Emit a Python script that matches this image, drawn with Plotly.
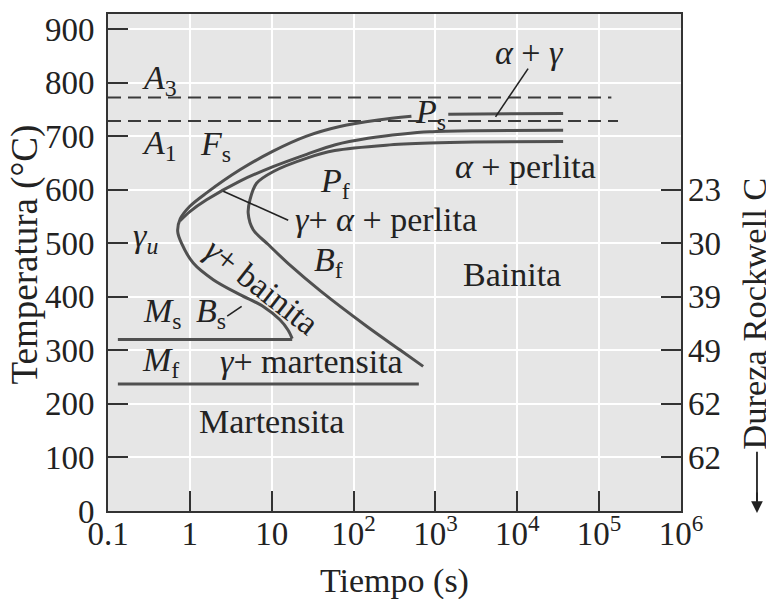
import numpy as np
import plotly.graph_objects as go

# ---------------- data ----------------
# Ferrite-start curve (outer C curve), from the Ms end upward (time s, temperature C)
fs_t = [17.8, 15.8, 12.6, 7.87, 4.09, 1.93, 1.10, 0.79, 0.71, 0.76, 1.0, 1.60, 4.09, 10.4, 26.7, 68, 200, 509, None, 1435, 36300]
fs_T = [322, 338, 357, 382, 404, 432, 463, 500, 522, 545, 569, 594, 637, 672, 700, 718, 730, 737, None, 741, 742]

# Pearlite-start curve
ps_t = [0.76, 1.0, 1.60, 4.09, 10.4, 26.7, 60, 150, 400, 851, 3000, 36300]
ps_T = [542, 559, 581, 616, 643, 666, 684, 696, 704, 708, 710, 711]

# Pearlite / bainite finish curve
pf_t = [36300, 3000, 851, 250, 59, 26.9, 10.5, 6.53, 5.42, 5.16, 5.94, 9.0, 17.0, 40.0, 144.5, 367, 708]
pf_T = [690, 689, 687, 683, 673, 659, 634, 612, 581, 556, 525, 498, 458, 410, 345, 301, 270]

# Martensite start / finish lines
ms_t = [0.132, 17.8]
ms_T = [320, 320]
mf_t = [0.132, 627]
mf_T = [237, 237]

# Critical temperatures (dashed)
a3_t = [0.1, 141000]
a3_T = [772, 772]
a1_t = [0.1, 170000]
a1_T = [728, 728]

# Leader lines
lead1_t = [2.56, 15.9]
lead1_T = [597, 543]
lead2_t = [13550, 5420]
lead2_T = [826, 736]
lead3_t = [2.86, 4.29]
lead3_T = [364, 382]

# Axis ticks
x_tickvals = [0.1, 1, 10, 100, 1e3, 1e4, 1e5, 1e6]
x_ticktext = ["0.1", "1", "10", "10<sup>2</sup>", "10<sup>3</sup>", "10<sup>4</sup>", "10<sup>5</sup>", "10<sup>6</sup>"]
y_tickvals = [0, 100, 200, 300, 400, 500, 600, 700, 800, 900]
hrc_tickvals = [600, 500, 400, 300, 200, 100]
hrc_ticktext = ["23", "30", "39", "49", "62", "62"]

# Region labels: (text, time s, temperature C, angle)
labels = [
    ("<i>A</i><sub>3</sub>", 0.431, 804, 0),
    ("<i>A</i><sub>1</sub>", 0.42, 684, 0),
    ("<i>F</i><sub>s</sub>", 2.08, 682, 0),
    ("<i>P</i><sub>s</sub>", 860, 742, 0),
    ("<i>P</i><sub>f</sub>", 59.3, 613, 0),
    ("<i>α</i> + perlita", 12760, 643, 0),
    ("<i>α</i> + <i>γ</i>", 14290, 856, 0),
    ("<i>γ</i>+ <i>α</i> + perlita", 249, 544, 0),
    ("<i>γ<sub>u</sub></i>", 0.291, 510, 0),
    ("<i>γ</i>+ bainita", 7.6, 419, 38),
    ("<i>B</i><sub>f</sub>", 48.8, 465, 0),
    ("Bainita", 8610, 441, 0),
    ("<i>M</i><sub>s</sub>", 0.457, 370, 0),
    ("<i>B</i><sub>s</sub>", 1.81, 370, 0),
    ("<i>M</i><sub>f</sub>", 0.444, 279, 0),
    ("<i>γ</i>+ martensita", 30.2, 279, 0),
    ("Martensita", 9.8, 168, 0),
]

FONT = "Liberation Serif"
CURVE = "#505050"
TXT = "#222"

fig = go.Figure()

def add_line(t, T, color=CURVE, width=3, dash=None, shape="spline"):
    fig.add_trace(go.Scatter(
        x=t, y=T, mode="lines", hoverinfo="skip",
        line=dict(color=color, width=width, dash=dash, shape=shape, smoothing=0.9),
        connectgaps=False,
    ))

add_line(a3_t, a3_T, color="#3a3a3a", width=2, dash="13px,7px", shape="linear")
add_line(a1_t, a1_T, color="#3a3a3a", width=2, dash="13px,7px", shape="linear")
add_line(fs_t, fs_T)
add_line(ps_t, ps_T)
add_line(pf_t, pf_T)
add_line(ms_t, ms_T, shape="linear")
add_line(mf_t, mf_T, shape="linear")
add_line(lead1_t, lead1_T, color=TXT, width=1.6, shape="linear")
add_line(lead2_t, lead2_T, color=TXT, width=1.6, shape="linear")
add_line(lead3_t, lead3_T, color=TXT, width=1.6, shape="linear")

# invisible trace to activate the right hardness axis
fig.add_trace(go.Scatter(x=[1], y=[100], yaxis="y2", mode="markers",
                         marker=dict(opacity=0), hoverinfo="skip"))

annotations = []
for text, t, T, ang in labels:
    annotations.append(dict(
        x=float(np.log10(t)), y=T, xref="x", yref="y", text=text,
        showarrow=False, textangle=ang,
        font=dict(family=FONT, size=34, color=TXT),
        xanchor="center", yanchor="middle",
    ))

# axis titles placed as annotations
annotations.append(dict(x=-0.145, y=0.516, xref="paper", yref="paper",
                        text="Temperatura (°C)", textangle=-90, showarrow=False,
                        font=dict(family=FONT, size=37, color=TXT),
                        xanchor="center", yanchor="middle"))
annotations.append(dict(x=0.5, y=-0.140, xref="paper", yref="paper",
                        text="Tiempo (s)", showarrow=False,
                        font=dict(family=FONT, size=34, color=TXT),
                        xanchor="center", yanchor="middle"))
annotations.append(dict(x=1.1274, y=0.397, xref="paper", yref="paper",
                        text="Dureza Rockwell C", textangle=-90, showarrow=False,
                        font=dict(family=FONT, size=34.5, color=TXT),
                        xanchor="center", yanchor="middle"))
annotations.append(dict(x=1.1326, y=-0.004, xref="paper", yref="paper",
                        text="", showarrow=True, ax=0, ay=-22,
                        font=dict(size=1),
                        arrowhead=2, arrowsize=1.3, arrowwidth=1.8, arrowcolor=TXT))

fig.update_layout(
    width=766, height=599,
    margin=dict(l=108, r=85, t=14, b=88),
    paper_bgcolor="white", plot_bgcolor="#e6e6e6",
    showlegend=False,
    font=dict(family=FONT, size=32, color=TXT),
    annotations=annotations,
    shapes=[dict(type="line", xref="paper", yref="paper",
                 x0=1.1326, x1=1.1326, y0=0.119, y1=0.02,
                 line=dict(color=TXT, width=1.8))],
    xaxis=dict(type="log", range=[-1, 6], tickvals=x_tickvals, ticktext=x_ticktext,
               ticks="inside", ticklen=20, tickwidth=2, tickcolor="#333",
               showline=True, linewidth=2, linecolor="#333", mirror=True,
               showgrid=True, gridcolor="white", gridwidth=1.5, zeroline=False,
               tickfont=dict(family=FONT, size=33, color=TXT),
               ticklabelstandoff=-8),
    yaxis=dict(range=[0, 928], tickvals=y_tickvals,
               ticks="inside", ticklen=20, tickwidth=2, tickcolor="#333",
               showline=True, linewidth=2, linecolor="#333", mirror=True,
               showgrid=True, gridcolor="white", gridwidth=1.5, zeroline=False,
               tickfont=dict(family=FONT, size=33, color=TXT),
               ticklabelstandoff=5),
    yaxis2=dict(overlaying="y", side="right", range=[0, 928],
                tickvals=hrc_tickvals, ticktext=hrc_ticktext,
                ticks="inside", ticklen=20, tickwidth=2, tickcolor="#333",
                showline=False, showgrid=False, zeroline=False,
                tickfont=dict(family=FONT, size=33, color=TXT),
                ticklabelstandoff=6),
)

fig.write_html("out.html")
